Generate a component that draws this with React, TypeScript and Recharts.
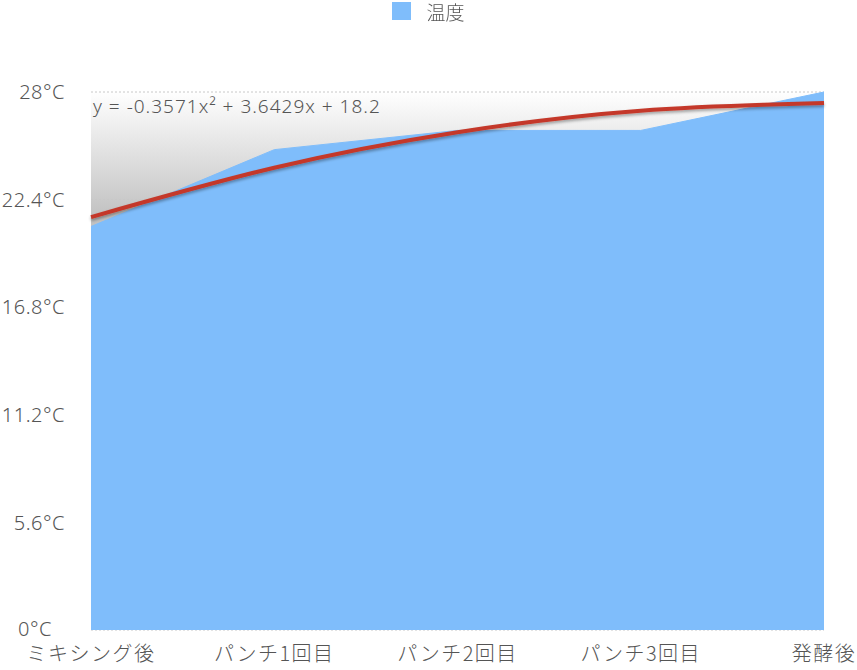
import React from "react";
import {
  Area,
  CartesianGrid,
  ComposedChart,
  Legend,
  Line,
  XAxis,
  YAxis,
} from "recharts";

const stages = ["ミキシング後", "パンチ1回目", "パンチ2回目", "パンチ3回目", "発酵後"];
const temperature = [21, 25, 26, 26, 28];
// quadratic trend as printed on the chart: y = -0.3571x² + 3.6429x + 18.2
const trend = [21.49, 24.06, 25.91, 27.03, 27.43];
const yTicks = [0, 5.6, 11.2, 16.8, 22.4, 28];
const equation = "y = -0.3571x² + 3.6429x + 18.2";

const data = stages.map((stage, i) => ({
  stage,
  temperature: temperature[i],
  trend: trend[i],
}));

const FONT = "'Noto Sans', 'Noto Sans CJK JP', sans-serif";
const JP_FONT = "'Noto Sans CJK JP', 'Noto Sans', sans-serif";
const TEXT = "#555555";
const BLUE = "#7fbdfb";

function YTick({ y, payload }: any) {
  const isZero = payload.value === 0;
  return (
    <text
      x={isZero ? 18 : 65}
      y={y - (isZero ? 1 : 0)}
      dy="0.36em"
      textAnchor={isZero ? "start" : "end"}
      fill={TEXT}
      fontSize={20}
      fontWeight={300}
      letterSpacing={0.5}
      fontFamily={FONT}
    >
      {`${payload.value}°C`}
    </text>
  );
}

function LegendBox() {
  return (
    <div
      style={{
        height: 28,
        paddingTop: 1,
        boxSizing: "border-box",
        display: "flex",
        alignItems: "flex-start",
        justifyContent: "center",
        fontFamily: JP_FONT,
        fontWeight: 300,
        color: TEXT,
        fontSize: 19,
      }}
    >
      <span
        style={{
          display: "inline-block",
          width: 19,
          height: 18,
          background: BLUE,
          marginTop: 1,
          marginRight: 15,
        }}
      />
      <span style={{ lineHeight: "22px" }}>温度</span>
    </div>
  );
}

export default function App() {
  return (
    <div style={{ position: "fixed", left: 0, top: 0, width: 857, height: 670, background: "#fff" }}>
      <ComposedChart
        width={857}
        height={670}
        data={data}
        margin={{ top: 64, right: 33, bottom: 0, left: 0 }}
      >
        <defs>
          <linearGradient id="bgShade" x1="0" y1="0" x2="0" y2="1">
            <stop offset="0%" stopColor="#ffffff" />
            <stop offset="23%" stopColor="#c2c2c2" />
            <stop offset="100%" stopColor="#c2c2c2" />
          </linearGradient>
          <filter id="lineShadow" x="-5%" y="-50%" width="110%" height="200%">
            <feDropShadow dx="0" dy="2" stdDeviation="1.5" floodColor="#000" floodOpacity="0.35" />
          </filter>
        </defs>
        <Legend
          verticalAlign="top"
          align="center"
          content={<LegendBox />}
          wrapperStyle={{ top: 0, left: 0, width: 857 }}
        />
        <CartesianGrid
          vertical={false}
          stroke="#c8c8c8"
          strokeDasharray="2 2"
          fill="url(#bgShade)"
          fillOpacity={1}
        />
        <XAxis
          dataKey="stage"
          axisLine={false}
          tickLine={false}
          interval={0}
          height={40}
          tickMargin={11}
          tick={{ fill: TEXT, fontSize: 20, fontWeight: 300, fontFamily: JP_FONT, letterSpacing: 1.5 }}
        />
        <YAxis
          domain={[0, 28]}
          ticks={yTicks}
          width={91}
          axisLine={false}
          tickLine={false}
          tick={<YTick />}
        />
        <Area
          type="linear"
          dataKey="temperature"
          name="温度"
          stroke={BLUE}
          fill={BLUE}
          fillOpacity={1}
          isAnimationActive={false}
        />
        <Line
          type="natural"
          dataKey="trend"
          stroke="#c4392a"
          strokeWidth={4}
          dot={false}
          activeDot={false}
          filter="url(#lineShadow)"
          isAnimationActive={false}
        />
      </ComposedChart>
      <div
        style={{
          position: "absolute",
          left: 93,
          top: 93,
          fontFamily: FONT,
          fontWeight: 300,
          fontSize: 19,
          letterSpacing: 1,
          color: TEXT,
        }}
      >
        {equation}
      </div>
    </div>
  );
}
